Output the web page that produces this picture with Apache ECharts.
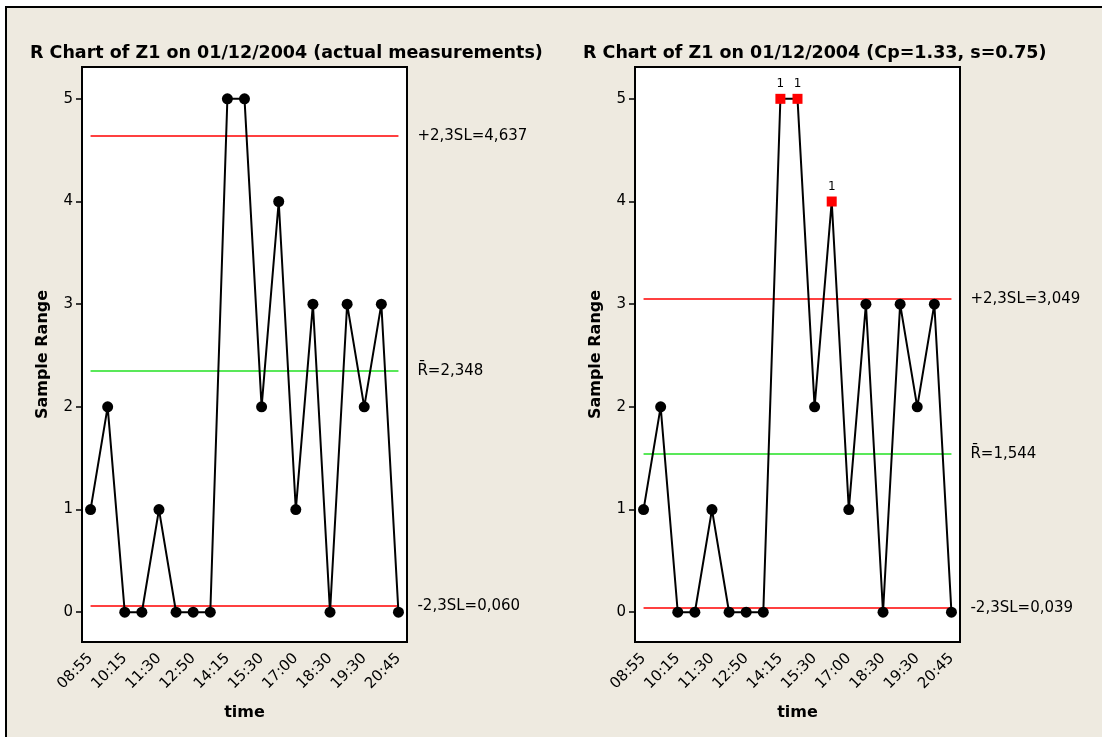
<!DOCTYPE html>
<html>
<head>
<meta charset="utf-8">
<script src="https://cdn.jsdelivr.net/npm/echarts@6/dist/echarts.min.js"></script>
<style>
  html, body { margin: 0; padding: 0; background: #fff; }
  .frame {
    position: absolute; left: 5px; top: 6px; width: 1097px; height: 731px;
    box-sizing: border-box; background: #eeeae0;
    border-top: 2px solid #000; border-left: 2px solid #000;
  }
  .chart { position: absolute; left: 0; top: 0; width: 1102px; height: 737px; }
</style>
</head>
<body>
<div class="frame"></div>
<div class="chart"></div>
<script>
// sample times (only every other one is labelled on the axis)
const times = ['08:55', '', '10:15', '', '11:30', '', '12:50', '', '14:15', '',
  '15:30', '', '17:00', '', '18:30', '', '19:30', '', '20:45'];
// sample range per subgroup, same data in both charts
const ranges = [1, 2, 0, 0, 1, 0, 0, 0, 5, 5, 2, 4, 1, 3, 0, 3, 2, 3, 0];
const yTicks = [0, 1, 2, 3, 4, 5];
// [UCL, Rbar, LCL]
const limitsActual = [4.637, 2.348, 0.060];
const limitsCp = [3.049, 1.544, 0.039];
// points flagged by test 1 in the Cp chart
const flaggedActual = [];
const flaggedCp = [8, 9, 11];

const FONT = 'DejaVu Sans';

function fmt(v) {
  return v.toFixed(3).replace('.', ',');
}

function limitLine(v, text, color) {
  return [
    {
      coord: [0, v],
      lineStyle: { color: color, width: 1.5, type: 'solid' },
      label: { formatter: text + fmt(v) },
    },
    { coord: [ranges.length - 1, v] },
  ];
}

function buildChart(i, left, title, limits, flagged) {
  const data = ranges.map(function (v, k) {
    if (flagged.indexOf(k) < 0) return v;
    return {
      value: v,
      symbol: 'rect',
      symbolSize: 10,
      itemStyle: { color: '#ff0000' },
      label: { show: true, formatter: '1', position: 'top', distance: 4, fontSize: 12, color: '#000', fontFamily: FONT },
    };
  });
  return {
    title: {
      text: title,
      left: left - 52,
      top: 44,
      padding: 0,
      textStyle: { fontFamily: FONT, fontSize: 17.5, fontWeight: 'bold', color: '#000' },
    },
    grid: {
      left: left,
      top: 67,
      width: 325,
      height: 575,
      show: true,
      backgroundColor: '#fff',
      borderColor: '#000',
      borderWidth: 2,
    },
    xAxis: {
      type: 'category',
      gridIndex: i,
      data: times,
      boundaryGap: true,
      name: 'time',
      nameLocation: 'middle',
      nameGap: 63,
      nameTextStyle: { fontFamily: FONT, fontSize: 16, fontWeight: 'bold', color: '#000' },
      axisLine: { show: false },
      axisTick: { interval: 1, alignWithLabel: true, length: 6, lineStyle: { color: '#000', width: 1.5 } },
      axisLabel: { interval: 0, rotate: 45, margin: 14, fontFamily: FONT, fontSize: 15, color: '#000' },
      splitLine: { show: false },
    },
    yAxis: {
      type: 'value',
      gridIndex: i,
      min: -0.29,
      max: 5.31,
      name: 'Sample Range',
      nameLocation: 'middle',
      nameGap: 31,
      nameTextStyle: { fontFamily: FONT, fontSize: 16, fontWeight: 'bold', color: '#000' },
      axisLine: { show: false },
      axisTick: { show: true, customValues: yTicks, length: 6, lineStyle: { color: '#000', width: 1.5 } },
      axisLabel: { customValues: yTicks, margin: 9, fontFamily: FONT, fontSize: 15, color: '#000' },
      splitLine: { show: false },
    },
    series: {
      type: 'line',
      xAxisIndex: i,
      yAxisIndex: i,
      data: data,
      symbol: 'circle',
      symbolSize: 11,
      itemStyle: { color: '#000' },
      lineStyle: { color: '#000', width: 2 },
      z: 3,
      markLine: {
        silent: true,
        symbol: ['none', 'none'],
        z: 2,
        label: { position: 'end', distance: 19, fontFamily: FONT, fontSize: 15, color: '#000' },
        data: [
          limitLine(limits[0], '+2,3SL=', '#ff0000'),
          limitLine(limits[1], 'R\u0304=', '#22e022'),
          limitLine(limits[2], '-2,3SL=', '#ff0000'),
        ],
      },
    },
  };
}

const charts = [
  buildChart(0, 82, 'R Chart of Z1 on 01/12/2004 (actual measurements)', limitsActual, flaggedActual),
  buildChart(1, 635, 'R Chart of Z1 on 01/12/2004 (Cp=1.33, s=0.75)', limitsCp, flaggedCp),
];

const option = {
  animation: false,
  title: charts.map(function (c) { return c.title; }),
  grid: charts.map(function (c) { return c.grid; }),
  xAxis: charts.map(function (c) { return c.xAxis; }),
  yAxis: charts.map(function (c) { return c.yAxis; }),
  series: charts.map(function (c) { return c.series; }),
};

const myChart = echarts.init(document.querySelector('.chart'));
myChart.setOption(option);
window.addEventListener('resize', function () {
  myChart.resize();
});
</script>
</body>
</html>
